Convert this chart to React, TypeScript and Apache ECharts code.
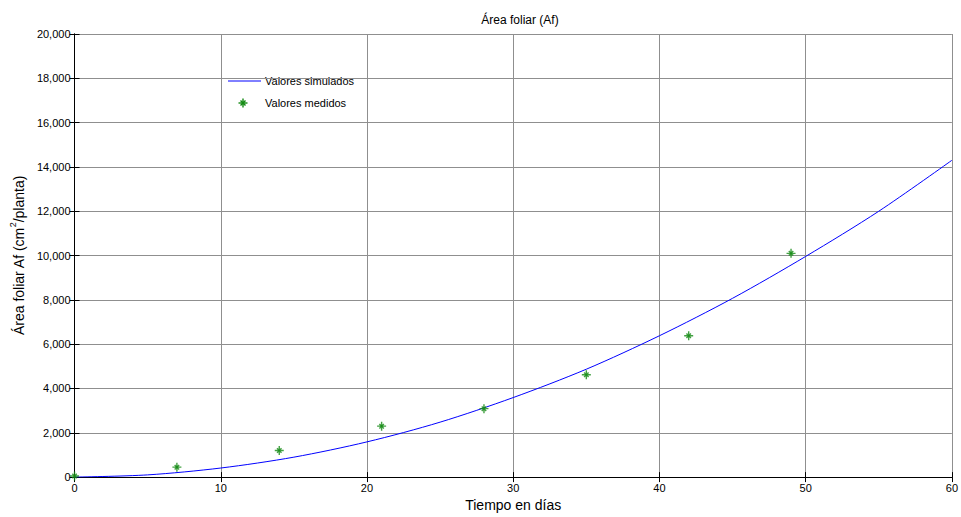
import React, { useEffect, useRef } from "react";
import * as echarts from "echarts";

const simDays = [0, 5, 10, 15, 20, 25, 30, 35, 40, 45, 50, 55, 60];
const simValues = [0, 100, 410, 900, 1590, 2480, 3590, 4870, 6380, 8070, 9960, 12000, 14300];
const measDays = [0, 7, 14, 21, 28, 35, 42, 49];
const measValues = [50, 450, 1200, 2300, 3090, 4620, 6380, 10100];

const title = "Área foliar (Af)";
const xName = "Tiempo en días";
const simName = "Valores simulados";
const measName = "Valores medidos";

const FONT = "'Liberation Sans', Arial, sans-serif";
const GREEN = "#138a13";
const GRID = "#8f8f8f";
const markerPath =
  "path://M5,0 L5,10 M0,5 L10,5 M2.5,2.5 L7.5,7.5 M7.5,2.5 L2.5,7.5 M3.8,3.8 L6.2,3.8 L6.2,6.2 L3.8,6.2 Z";

export default function App() {
  const ref = useRef<HTMLDivElement>(null);
  useEffect(() => {
    if (!ref.current) return;
    const chart = echarts.init(ref.current, undefined, { renderer: "svg" });
    const fmt = (v: number) => v.toLocaleString("en-US");
    const axisLine = { show: true, lineStyle: { color: "#000", width: 1 } };
    chart.setOption({
      animation: false,
      backgroundColor: "#fff",
      textStyle: { fontFamily: FONT },
      title: {
        text: title,
        left: 515,
        textAlign: "center",
        top: 9,
        textStyle: { fontSize: 12, fontWeight: "normal", color: "#000", fontFamily: FONT },
      },
      grid: { left: 74.5, top: 34, width: 880.5, height: 446, containLabel: false },
      xAxis: [
        {
          type: "value",
          min: 0,
          max: 60,
          interval: 10,
          position: "bottom",
          name: xName,
          nameLocation: "middle",
          nameGap: 20,
          nameTextStyle: { fontSize: 14, color: "#000", fontFamily: FONT },
          axisLine,
          axisTick: { show: true, inside: true, length: 5, lineStyle: { color: "#000" } },
          axisLabel: { fontSize: 11, color: "#000", margin: 5, fontFamily: FONT },
          splitLine: { show: true, lineStyle: { color: GRID, width: 1 } },
        },
        {
          type: "value",
          min: 0,
          max: 60,
          interval: 10,
          position: "top",
          axisLine,
          axisTick: { show: true, inside: true, length: 5, lineStyle: { color: "#000" } },
          axisLabel: { show: false },
          splitLine: { show: false },
        },
      ],
      yAxis: [
        {
          type: "value",
          min: 0,
          max: 20000,
          interval: 2000,
          position: "left",
          name: "{a|Área foliar Af (cm}{s|2}{a|/planta)}",
          nameLocation: "middle",
          nameGap: 47,
          nameTextStyle: {
            color: "#000",
            fontFamily: FONT,
            rich: {
              a: { fontSize: 14, color: "#000", fontFamily: FONT, lineHeight: 18, verticalAlign: "bottom" },
              s: { fontSize: 9, color: "#000", fontFamily: FONT, lineHeight: 18, verticalAlign: "top" },
            },
          },
          axisLine,
          axisTick: { show: true, inside: true, length: 5, lineStyle: { color: "#000" } },
          axisLabel: { fontSize: 11, color: "#000", margin: 4, fontFamily: FONT, formatter: fmt },
          splitLine: { show: true, lineStyle: { color: GRID, width: 1 } },
        },
        {
          type: "value",
          min: 0,
          max: 20000,
          interval: 2000,
          position: "right",
          axisLine,
          axisTick: { show: true, inside: true, length: 5, lineStyle: { color: "#000" } },
          axisLabel: { show: false },
          splitLine: { show: false },
        },
      ],
      series: [
        {
          name: simName,
          type: "line",
          data: simDays.map((d, i) => [d, simValues[i]]),
          showSymbol: false,
          symbol: "none",
          smooth: 0.3,
          lineStyle: { color: "#0000ff", width: 1 },
          z: 3,
        },
        {
          name: measName,
          type: "scatter",
          data: measDays.map((d, i) => [d, measValues[i]]),
          symbol: markerPath,
          symbolSize: 9,
          itemStyle: { color: GREEN, borderColor: GREEN, borderWidth: 1.4 },
          z: 4,
        },
      ],
      graphic: [
        {
          type: "group",
          left: 220,
          top: 65,
          z: 100,
          children: [
            { type: "rect", shape: { x: 0, y: 0, width: 142, height: 55 }, style: { fill: "#fff" } },
            { type: "line", shape: { x1: 8, y1: 16, x2: 41, y2: 16 }, style: { stroke: "#0000ff", lineWidth: 1 } },
            {
              type: "text",
              x: 45,
              y: 16,
              style: { text: simName, fontSize: 11, fill: "#000", fontFamily: FONT, verticalAlign: "middle" },
            },
            {
              type: "group",
              x: 23,
              y: 38,
              children: [
                { type: "line", shape: { x1: 0, y1: -4.5, x2: 0, y2: 4.5 }, style: { stroke: GREEN, lineWidth: 1.4 } },
                { type: "line", shape: { x1: -4.5, y1: 0, x2: 4.5, y2: 0 }, style: { stroke: GREEN, lineWidth: 1.4 } },
                { type: "line", shape: { x1: -2.5, y1: -2.5, x2: 2.5, y2: 2.5 }, style: { stroke: GREEN, lineWidth: 1.4 } },
                { type: "line", shape: { x1: 2.5, y1: -2.5, x2: -2.5, y2: 2.5 }, style: { stroke: GREEN, lineWidth: 1.4 } },
                { type: "rect", shape: { x: -1.2, y: -1.2, width: 2.4, height: 2.4 }, style: { fill: GREEN } },
              ],
            },
            {
              type: "text",
              x: 45,
              y: 38,
              style: { text: measName, fontSize: 11, fill: "#000", fontFamily: FONT, verticalAlign: "middle" },
            },
          ],
        },
      ],
    });
    return () => chart.dispose();
  }, []);
  return (
    <div
      ref={ref}
      style={{ position: "fixed", left: 0, top: 0, width: 961, height: 517, background: "#fff" }}
    />
  );
}
